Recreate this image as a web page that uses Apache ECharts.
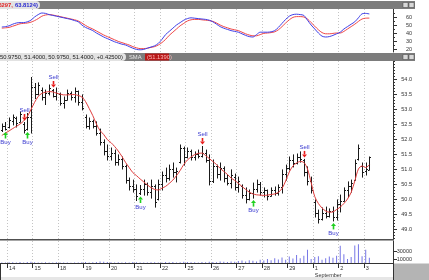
<!DOCTYPE html>
<html><head><meta charset="utf-8">
<script src="https://cdn.jsdelivr.net/npm/echarts@6/dist/echarts.min.js"></script>
<style>html,body{margin:0;padding:0;background:#fff}#c{width:429px;height:280px}</style>
</head><body><div id="c"></div>
<script>
// ---------- DATA ----------
const dayLabels = ['13','14','15','18','19','20','21','22','25','26','27','28','29','1','2','3'];
const monthOf = {'1':'September'};
const open = [52.30,52.45,52.40,52.60,52.70,52.58,52.50,52.35,52.75,53.75, 53.50,53.65,53.40,53.55,53.62,53.45,53.50,53.20,53.30,53.55, 53.40,53.60,53.25,52.75,52.45,52.60,52.45,52.20,51.90,51.60, 51.45,51.55,51.25,51.35,51.10,50.65,50.45,50.35,50.20,50.35, 50.50,50.25,50.45,50.00,50.50,50.80,50.70,51.00,50.90,51.25, 51.70,51.40,51.60,51.40,51.50,51.45,51.55,51.30,50.60,51.10, 50.85,51.05,50.70,50.55,50.75,50.40,50.45,50.15,50.00,50.20, 50.35,50.50,50.25,50.30,50.10,50.30,50.20,50.40,50.85,51.05, 51.30,51.20,51.40,51.30,50.90,50.60,49.90,49.55,49.35,49.55, 49.45,49.60,49.40,49.85,49.95,50.30,50.45,50.65,51.35,51.10, 50.95,50.975];
const high = [52.50,52.55,52.70,52.80,52.73,52.90,52.55,52.85,54.05,53.85, 53.87,53.70,53.63,53.80,53.65,53.70,53.53,53.40,53.63,53.57, 53.70,53.60,53.47,52.80,52.70,52.63,52.57,52.33,51.97,51.80, 51.70,51.63,51.47,51.40,51.13,50.70,50.63,50.47,50.45,50.63, 50.53,50.63,50.47,50.63,50.90,51.03,51.13,51.20,51.03,51.80, 51.73,51.70,51.63,51.57,51.63,51.75,51.63,51.47,51.30,51.13, 51.20,51.07,50.80,50.97,50.83,50.73,50.47,50.37,50.30,50.53, 50.63,50.55,50.37,50.30,50.37,50.40,50.47,50.97,51.13,51.40, 51.47,51.50,51.57,51.32,51.07,50.73,49.97,49.63,49.70,49.73, 49.67,49.73,49.97,50.13,50.37,50.57,50.63,51.30,51.80,51.20, 51.20,51.40];
const low = [52.25,52.30,52.37,52.47,52.40,52.57,52.20,52.30,52.20,53.35, 53.47,53.30,53.15,53.47,53.40,53.30,53.13,53.03,53.30,53.30, 53.23,53.13,52.97,52.37,52.33,52.37,52.13,51.80,51.47,51.30, 51.30,51.13,51.13,51.00,50.53,50.30,50.23,49.95,50.15,50.13, 50.13,50.03,49.73,49.97,50.30,50.57,50.63,50.73,50.57,51.20, 51.13,51.37,51.30,51.30,51.37,51.40,51.23,50.47,50.55,50.70, 50.63,50.57,50.47,50.37,50.30,50.23,50.03,49.87,49.97,50.03, 50.23,50.13,50.07,49.97,50.10,50.13,50.13,50.20,50.63,50.97, 51.07,51.17,51.23,50.77,50.47,50.20,49.40,49.20,49.30,49.37, 49.40,49.27,49.30,49.57,49.93,50.07,50.23,50.63,51.30,50.73, 50.80,50.975];
const close = [52.45,52.35,52.62,52.72,52.55,52.85,52.30,52.75,53.75,53.50, 53.80,53.40,53.55,53.70,53.45,53.55,53.20,53.30,53.55,53.40, 53.60,53.25,53.05,52.45,52.60,52.45,52.20,51.90,51.60,51.45, 51.55,51.25,51.35,51.10,50.65,50.45,50.35,50.10,50.35,50.50, 50.25,50.45,49.90,50.50,50.80,50.70,51.00,50.90,50.95,51.70, 51.40,51.60,51.40,51.50,51.45,51.55,51.30,50.60,51.10,50.85, 51.05,50.70,50.55,50.80,50.40,50.60,50.15,50.00,50.20,50.35, 50.50,50.25,50.30,50.10,50.30,50.20,50.40,50.85,51.05,51.30, 51.20,51.40,51.35,50.90,50.60,50.30,49.55,49.35,49.55,49.45, 49.60,49.40,49.85,49.95,50.30,50.45,50.55,51.20,51.70,50.90, 51.00,51.40];
const sma = [52.12,52.20,52.27,52.35,52.42,52.50,52.60,52.75,52.98,53.22, 53.42,53.52,53.56,53.58,53.57,53.53,53.50,53.47,53.47,53.48, 53.48,53.45,53.40,53.25,53.02,52.78,52.50,52.28,52.15,51.98, 51.88,51.75,51.60,51.42,51.22,51.05,50.88,50.78,50.67,50.57, 50.47,50.38,50.32,50.30,50.36,50.42,50.52,50.63,50.78,50.95, 51.15,51.30,51.40,51.48,51.52,51.53,51.45,51.35,51.25,51.15, 51.02,50.92,50.82,50.70,50.62,50.52,50.42,50.32,50.23,50.17, 50.14,50.13,50.12,50.13,50.15,50.17,50.22,50.35,50.60,50.90, 51.10,51.20,51.25,51.22,51.00,50.55,50.08,49.85,49.70,49.60, 49.56,49.57,49.65,49.73,49.85,50.00,50.22,50.60,51.00,51.10, 51.05,51.139];
const oscBlue = [47.5,48,49,51,52.5,53,53,54,56,60, 63,65,64.5,63,62,61,60,59,58,57, 55.5,54,50,47,45,43,40,37.5,35,33, 31,29,27.5,26,25,23,21,19.5,19,19.5, 21,22.5,24,27,32,38,42,46,50,53, 56,58,59,58.5,58,57.5,57,56,54,51, 48,46,44.5,43,42,41,39,37,35.5,35, 38,41,41,41,41.5,43,47,52,57,61, 63,63.5,63,62,56,50,45,40,36,35, 35.5,37,39,41,45,48,51,54,59,64, 64.5,63.8124];
const oscRed = [46,46.5,47,48.5,50,51.5,52,52.5,53.5,55.5, 58,61,62.5,63,62.5,61.5,60.5,59.5,58.5,57.5, 56.5,55,52.5,49.5,47,45,42.5,40,37.5,35.5, 33.5,31.5,29.5,28,26.5,25,23,21.5,20.5,20.5, 21,22,23,25,28,32,37,41,45,49, 52,55,56.5,57,57,56.5,56,55.5,54.5,52.5, 50,48,46.5,45,44,43,41,39,37.5,36.5, 36.5,38,39.5,40,40.5,41.5,44,48,52.5,56.5, 59.5,60.5,60.5,60,57.5,53,48.5,44,40.5,39, 39,39.5,40,40,42,45,48,51,54.5,57.5, 58.5,58.6297];
const volume = [1500,1200,2000,1800,1000,2500,1500,2200,3000,2000, 1500,1200,1800,1000,1500,2000,1200,1000,1500,800, 1200,1500,2000,2500,1500,1800,2200,3500,3000,2500, 2000,1500,1800,1200,2000,1500,2500,1800,1500,1000, 1500,2000,1800,1200,1500,2200,1800,2500,1500,2000, 3000,2500,1800,2000,1500,2500,2000,3000,2500,2000, 3500,3000,2500,4000,3000,5000,6000,4000,7000,5500, 3500,8000,6000,10000,7000,12000,9000,14000,8000,16000, 11000,20000,12000,18000,33000,10000,15000,17000,8000,12000, 16000,13000,18000,43000,22000,10000,15000,44000,47000,17000, 33000,13000];
const signalIndex = [1,6,7,14,38,55,69,83,91];
const signalType = ['Buy','Sell','Buy','Sell','Buy','Sell','Buy','Sell','Buy'];
const oscTicks = [20,30,40,50,60];
const priceTicks = [49.0,49.5,50.0,50.5,51.0,51.5,52.0,52.5,53.0,53.5,54.0];
const volTicks = [10000,30000];
const oscHeadRed = '(58.6297, ';
const oscHeadBlue = '63.8124)';
const priceHead = '50.9750, 51.4000, 50.9750, 51.4000, +0.42500)';
const smaHead = 'SMA';
const smaValHead = '(51.1390)';

// ---------- BUILD ----------
const NSLOT = 108;
const cats = [];
for (let s = 0; s < NSLOT; s++) {
  const d = s < 2 ? 0 : 1 + Math.floor((s - 2) / 7);
  cats.push((dayLabels[d] || '') + '|' + s);
}
const isDayStart = (s) => s >= 2 && (s - 2) % 7 === 0 && (1 + (s - 2) / 7) < dayLabels.length;
const sepIdx = 2 + 7 * (dayLabels.indexOf('1') - 1);
const FONT = "'Liberation Sans', Arial, sans-serif";
const ohlc = open.map((o, i) => [i, o, high[i], low[i], close[i]]);
const signals = signalIndex.map((i, k) => [i, signalType[k] === 'Buy' ? low[i] : high[i], signalType[k] === 'Buy' ? 1 : 0]);
const minorPrice = []; for (let v = 487; v <= 546; v++) minorPrice.push(v / 10);
const minorOsc = []; for (let v = 20; v <= 65; v += 5) minorOsc.push(v);

const gridL = -1.2, gridR = 36;
const splitLine = { show: true, interval: (i) => isDayStart(i), lineStyle: { color: '#c4c4c4', type: [1, 2], width: 1 } };
const hiddenX = (g) => ({ type: 'category', gridIndex: g, data: cats, axisLine: { show: false }, axisTick: { show: false }, axisLabel: { show: false }, splitLine });
const yMain = (g, min, max, ticks, fmt) => ({
  type: 'value', gridIndex: g, min, max, position: 'right',
  axisLine: { show: true, lineStyle: { color: '#333', width: 1 } },
  axisTick: { show: true, customValues: ticks, length: 4, lineStyle: { color: '#333' } },
  axisLabel: { show: true, customValues: ticks, formatter: fmt, margin: 19, align: 'right', fontSize: 5.5, color: '#333', fontFamily: FONT },
  splitLine: { show: false }
});
const yMinor = (g, min, max, ticks) => ({
  type: 'value', gridIndex: g, min, max, position: 'right',
  axisLine: { show: false }, axisLabel: { show: false }, splitLine: { show: false },
  axisTick: { show: true, customValues: ticks, length: 2, lineStyle: { color: '#333' } }
});

const graphic = [];
function headerBar(y, parts) {
  graphic.push({ type: 'rect', silent: true, z: 100, shape: { x: 0, y: y, width: 415, height: 8 }, style: { fill: '#7c7c7c' } });
  parts.forEach(p => graphic.push(p));
  graphic.push({ type: 'rect', z: 101, shape: { x: 403, y: y + 1.5, width: 5, height: 5 }, style: { fill: '#d8d8d8', stroke: '#444', lineWidth: 0.5 } });
  graphic.push({ type: 'rect', z: 101, shape: { x: 409, y: y + 1.5, width: 5, height: 5 }, style: { fill: '#d8d8d8', stroke: '#444', lineWidth: 0.5 } });
}
headerBar(1, [
  { type: 'rect', z: 101, shape: { x: 0, y: 1, width: 40, height: 8, r: [0, 4, 4, 0] }, style: { fill: '#e2e2e2' } },
  { type: 'text', z: 102, style: { text: oscHeadRed, x: 14.5, y: 5.2, fill: '#e02020', font: 'bold 5.8px ' + FONT, align: 'right', verticalAlign: 'middle' } },
  { type: 'text', z: 102, style: { text: oscHeadBlue, x: 15, y: 5.2, fill: '#2828d0', font: 'bold 5.8px ' + FONT, align: 'left', verticalAlign: 'middle' } }
]);
headerBar(53, [
  { type: 'rect', z: 101, shape: { x: 0, y: 53, width: 126, height: 8, r: [0, 4, 4, 0] }, style: { fill: '#e2e2e2' } },
  { type: 'text', z: 102, style: { text: priceHead, x: 0, y: 57.2, fill: '#222', font: '5.8px ' + FONT, align: 'left', verticalAlign: 'middle' } },
  { type: 'text', z: 102, style: { text: smaHead, x: 129, y: 57.2, fill: '#e8e8e8', font: '5.8px ' + FONT, align: 'left', verticalAlign: 'middle' } },
  { type: 'rect', z: 101, shape: { x: 145, y: 53.5, width: 24, height: 7 }, style: { fill: '#b81818' } },
  { type: 'text', z: 102, style: { text: smaValHead, x: 147, y: 57.2, fill: '#ffb8b8', font: '5.8px ' + FONT, align: 'left', verticalAlign: 'middle' } }
]);
graphic.push({ type: 'rect', silent: true, z: 100, shape: { x: 0, y: 239, width: 394, height: 1.5 }, style: { fill: '#505050' } });
graphic.push({ type: 'rect', silent: true, z: 0, shape: { x: 394, y: 263.5, width: 35, height: 16.5 }, style: { fill: '#b4b4b4' } });
graphic.push({ type: 'rect', silent: true, z: 0, shape: { x: 0, y: 277, width: 394, height: 3 }, style: { fill: '#e6e6e6' } });

const option = {
  animation: false,
  backgroundColor: '#ffffff',
  grid: [
    { left: gridL, right: gridR, top: 9, height: 43 },
    { left: gridL, right: gridR, top: 61, height: 178 },
    { left: gridL, right: gridR, top: 241, height: 22 }
  ],
  xAxis: [
    hiddenX(0),
    hiddenX(1),
    { type: 'category', gridIndex: 2, data: cats,
      axisLine: { show: true, lineStyle: { color: '#333', width: 1 } },
      axisTick: { show: true, interval: (i) => isDayStart(i), length: 5, lineStyle: { color: '#333' } },
      axisLabel: { show: true, interval: (i) => isDayStart(i), align: 'left', margin: 2, fontSize: 5.5, lineHeight: 7, color: '#333', fontFamily: FONT,
        formatter: (v) => { const n = v.split('|')[0]; return monthOf[n] ? n + '\n' + monthOf[n] : n; } },
      splitLine },
    { type: 'category', gridIndex: 2, data: cats, position: 'bottom',
      axisLine: { show: false }, axisLabel: { show: false }, splitLine: { show: false },
      axisTick: { show: true, interval: (i) => i === sepIdx, length: 17, lineStyle: { color: '#333' } } }
  ],
  yAxis: [
    yMain(0, 16.25, 70, oscTicks, (v) => String(v)),
    yMinor(0, 16.25, 70, minorOsc),
    yMain(1, 48.667, 54.6, priceTicks, (v) => v.toFixed(1)),
    yMinor(1, 48.667, 54.6, minorPrice),
    yMain(2, 0, 55000, volTicks, (v) => String(v))
  ],
  graphic,
  series: [
    { type: 'line', xAxisIndex: 0, yAxisIndex: 0, data: oscRed, showSymbol: false, smooth: 0.3, lineStyle: { color: '#f04848', width: 1 } },
    { type: 'line', xAxisIndex: 0, yAxisIndex: 0, data: oscBlue, showSymbol: false, smooth: 0.3, lineStyle: { color: '#4040e8', width: 1 } },
    { type: 'custom', xAxisIndex: 1, yAxisIndex: 2, data: ohlc, encode: { x: 0, y: [1, 2, 3, 4] }, clip: true,
      renderItem: (params, api) => {
        const i = api.value(0);
        const pO = api.coord([i, api.value(1)]), pH = api.coord([i, api.value(2)]);
        const pL = api.coord([i, api.value(3)]), pC = api.coord([i, api.value(4)]);
        const x = Math.round(pH[0]) + 0.5;
        const st = { stroke: '#1a1a1a', lineWidth: 1 };
        return { type: 'group', children: [
          { type: 'line', shape: { x1: x, y1: pH[1] - 0.5, x2: x, y2: pL[1] + 0.5 }, style: st },
          { type: 'line', shape: { x1: x - 1.5, y1: Math.round(pO[1]) + 0.5, x2: x, y2: Math.round(pO[1]) + 0.5 }, style: st },
          { type: 'line', shape: { x1: x, y1: Math.round(pC[1]) + 0.5, x2: x + 1.5, y2: Math.round(pC[1]) + 0.5 }, style: st }
        ] };
      } },
    { type: 'line', xAxisIndex: 1, yAxisIndex: 2, data: sma, showSymbol: false, smooth: 0.3, lineStyle: { color: '#e03c3c', width: 1 }, z: 3 },
    { type: 'custom', xAxisIndex: 1, yAxisIndex: 2, data: signals, encode: { x: 0, y: 1 }, z: 5,
      renderItem: (params, api) => {
        const i = api.value(0), buy = api.value(2) === 1;
        const pt = api.coord([i, api.value(1)]);
        const x = Math.round(pt[0]) + 0.5, y = pt[1];
        const col = buy ? '#1fd01f' : '#e81c1c';
        const d = buy ? 1 : -1;
        return { type: 'group', children: [
          { type: 'polygon', shape: { points: [[x, y + d * 2], [x - 2.5, y + d * 5], [x + 2.5, y + d * 5]] }, style: { fill: col } },
          { type: 'rect', shape: { x: x - 0.8, y: buy ? y + 5 : y - 8.5, width: 1.6, height: 3.5 }, style: { fill: col } },
          { type: 'text', style: { text: buy ? 'Buy' : 'Sell', x: x, y: y + d * 12.5, fill: '#3a3ad0', font: '6px ' + FONT, align: 'center', verticalAlign: 'middle' } }
        ] };
      } },
    { type: 'bar', xAxisIndex: 2, yAxisIndex: 4, data: volume, barWidth: 1, itemStyle: { color: '#7676e6' } }
  ]
};
const chart = echarts.init(document.getElementById('c'), null, { renderer: 'canvas' });
chart.setOption(option);
</script></body></html>
